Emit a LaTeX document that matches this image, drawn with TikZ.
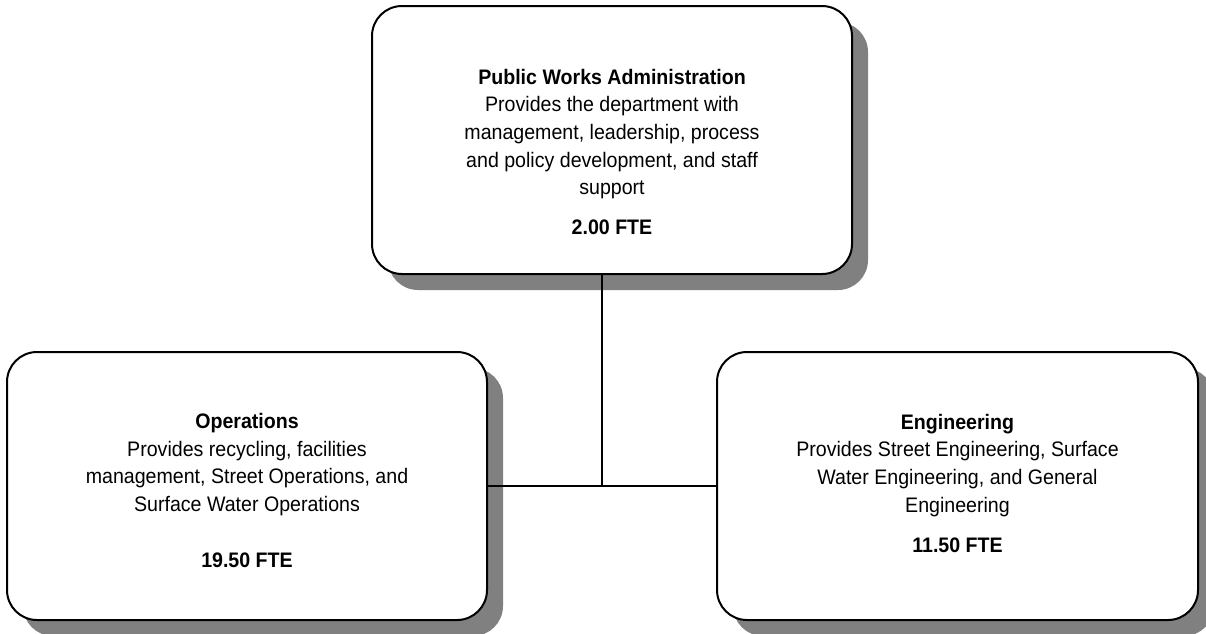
\documentclass[tikz,border=0pt]{standalone}
\usepackage{fontspec}
\setmainfont[FakeStretch=0.933]{Liberation Sans}
\usetikzlibrary{shadows}
\begin{document}
\begin{tikzpicture}[x=1pt,y=-1pt,
  orgbox/.style={draw=black, line width=2pt, fill=white, rounded corners=30pt,
    minimum width=480pt, minimum height=268pt, inner sep=0pt,
    drop shadow={shadow xshift=16pt, shadow yshift=-16pt, fill=black!50, opacity=1}},
  orgtext/.style={align=center, inner sep=0pt, anchor=base,
    font=\fontsize{21pt}{27.7pt}\selectfont},
  conn/.style={draw=black, line width=2pt}]
\useasboundingbox (0,0) rectangle (1206,633);
\node[orgbox] (admin) at (612,140) {};
\node[orgbox] (ops) at (247,486) {};
\node[orgbox, minimum width=481pt] (eng) at (957.5,486) {};
\coordinate (junction) at (602,486);
\draw[conn] (admin.south -| junction) -- (junction);
\draw[conn] (ops.east) -- (eng.west);
\node[orgtext] (adminT) at (612,234) {\textbf{Public Works Administration}\\Provides the department with\\management, leadership, process\\and policy development, and staff\\support\\[11.5pt]\textbf{2.00 FTE}};
\node[orgtext] (opsT) at (247,567) {\textbf{Operations}\\Provides recycling, facilities\\management, Street Operations, and\\Surface Water Operations\\[27.7pt]\textbf{19.50 FTE}};
\node[orgtext] (engT) at (957.5,552) {\textbf{Engineering}\\Provides Street Engineering, Surface\\Water Engineering, and General\\Engineering\\[12pt]\textbf{11.50 FTE}};
\end{tikzpicture}
\end{document}
